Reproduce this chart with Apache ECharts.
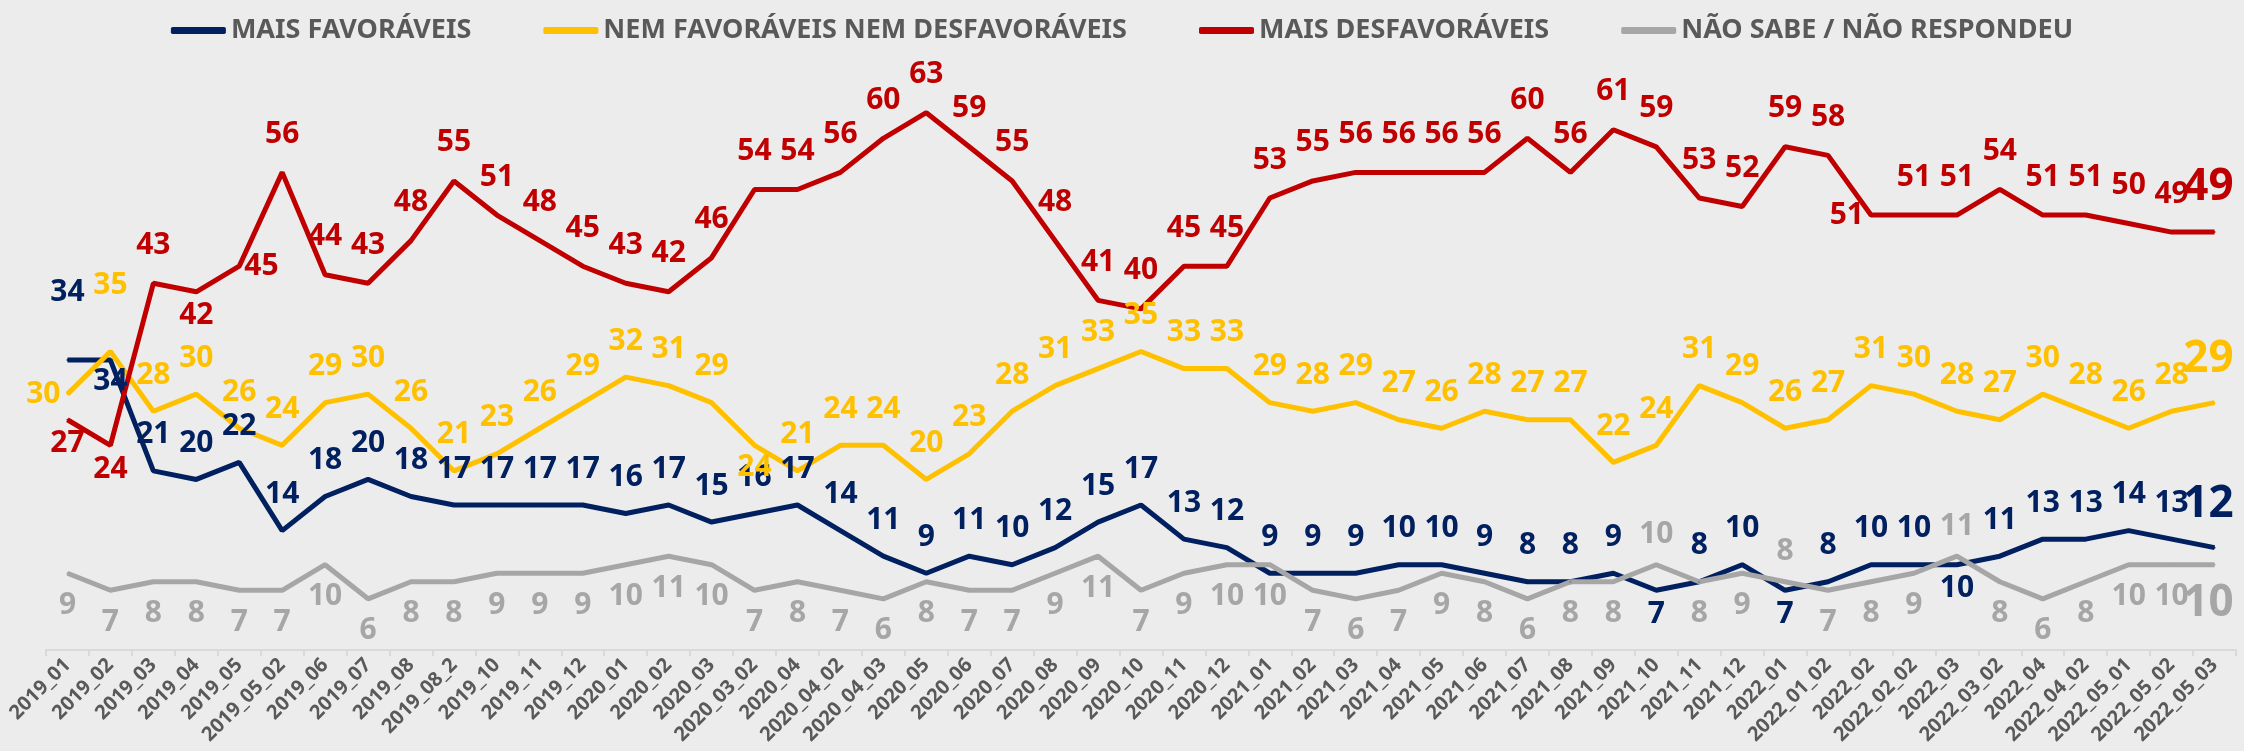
<!DOCTYPE html>
<html>
<head>
<meta charset="utf-8">
<script src="https://cdn.jsdelivr.net/npm/echarts@6/dist/echarts.min.js"></script>
<style>
  html, body { margin: 0; padding: 0; background: #ececec; }
  #chart { width: 2244px; height: 751px; }
</style>
</head>
<body>
<div id="chart"></div>
<script>
// categorias (rodadas)
const categories = [
  '2019_01', '2019_02', '2019_03', '2019_04', '2019_05', '2019_05_02', '2019_06', '2019_07', '2019_08', '2019_08_2',
  '2019_10', '2019_11', '2019_12', '2020_01', '2020_02', '2020_03', '2020_03_02', '2020_04', '2020_04_02', '2020_04_03',
  '2020_05', '2020_06', '2020_07', '2020_08', '2020_09', '2020_10', '2020_11', '2020_12', '2021_01', '2021_02',
  '2021_03', '2021_04', '2021_05', '2021_06', '2021_07', '2021_08', '2021_09', '2021_10', '2021_11', '2021_12',
  '2022_01', '2022_01_02', '2022_02', '2022_02_02', '2022_03', '2022_03_02', '2022_04', '2022_04_02', '2022_05_01', '2022_05_02',
  '2022_05_03'
]

// séries
const maisFavoraveis = [34, 34, 21, 20, 22, 14, 18, 20, 18, 17, 17, 17, 17, 16, 17, 15, 16, 17, 14, 11,
  9, 11, 10, 12, 15, 17, 13, 12, 9, 9, 9, 10, 10, 9, 8, 8, 9, 7, 8, 10,
  7, 8, 10, 10, 10, 11, 13, 13, 14, 13, 12]
const nemNem = [30, 35, 28, 30, 26, 24, 29, 30, 26, 21, 23, 26, 29, 32, 31, 29, 24, 21, 24, 24,
  20, 23, 28, 31, 33, 35, 33, 33, 29, 28, 29, 27, 26, 28, 27, 27, 22, 24, 31, 29,
  26, 27, 31, 30, 28, 27, 30, 28, 26, 28, 29]
const maisDesfavoraveis = [27, 24, 43, 42, 45, 56, 44, 43, 48, 55, 51, 48, 45, 43, 42, 46, 54, 54, 56, 60,
  63, 59, 55, 48, 41, 40, 45, 45, 53, 55, 56, 56, 56, 56, 60, 56, 61, 59, 53, 52,
  59, 58, 51, 51, 51, 54, 51, 51, 50, 49, 49]
const naoSabe = [9, 7, 8, 8, 7, 7, 10, 6, 8, 8, 9, 9, 9, 10, 11, 10, 7, 8, 7, 6,
  8, 7, 7, 9, 11, 7, 9, 10, 10, 7, 6, 7, 9, 8, 6, 8, 8, 10, 8, 9,
  8, 7, 8, 9, 11, 8, 6, 8, 10, 10, 10]

const FONT = '"Noto Sans", "DejaVu Sans", sans-serif'

// rótulos que fogem do padrão: [posição, distância]
const posFav = { 0: ['top', 52], 1: ['bottom', 5], 37: ['bottom', 8], 40: ['bottom', 8], 44: ['bottom', 8] }
const posNem = { 0: ['left', 6], 1: ['top', 50], 16: ['bottom', 6] }
const posDes = { 0: ['bottom', 8], 1: ['bottom', 8], 3: ['bottom', 8], 4: ['right', 4], 42: ['left', 6] }
const posNs = { 37: ['top', 14], 40: ['top', 14], 44: ['top', 14] }

const buildData = (values, overrides) => {
  return values.map((v, i) => {
    const item = { value: v, label: {} }
    if (overrides[i]) {
      item.label.position = overrides[i][0]
      item.label.distance = overrides[i][1]
    }
    if (i === values.length - 1) {
      item.label.fontSize = 44
      item.label.offset = [-6, 0]
    }
    return item
  })
}

const makeSeries = (name, values, color, defaultPos, overrides, distance) => ({
  name: name,
  type: 'line',
  data: buildData(values, overrides),
  symbol: 'circle',
  symbolSize: 2,
  lineStyle: { color: color, width: 5 },
  itemStyle: { color: color },
  label: {
    show: true,
    position: defaultPos,
    distance: distance,
    color: color,
    fontFamily: FONT,
    fontWeight: 'bold',
    fontSize: 30
  },
  emphasis: { disabled: true }
})

const chart = echarts.init(document.getElementById('chart'))
chart.setOption({
  backgroundColor: '#ececec',
  animation: false,
  legend: {
    top: 12,
    left: 'center',
    icon: 'roundRect',
    itemWidth: 55,
    itemHeight: 7,
    itemGap: 72,
    textStyle: { color: '#595959', fontSize: 27, fontWeight: 'bold', fontFamily: FONT },
    data: ['MAIS FAVORÁVEIS', 'NEM FAVORÁVEIS NEM DESFAVORÁVEIS', 'MAIS DESFAVORÁVEIS', 'NÃO SABE / NÃO RESPONDEU']
  },
  grid: { left: 46, right: 8, top: 53, bottom: 101 },
  xAxis: {
    type: 'category',
    data: categories,
    boundaryGap: true,
    axisLine: { lineStyle: { color: '#d9d9d9', width: 2 } },
    axisTick: { show: true, interval: 0, length: 6, lineStyle: { color: '#d9d9d9', width: 2 } },
    axisLabel: {
      interval: 0,
      rotate: 45,
      margin: 12,
      color: '#595959',
      fontFamily: FONT,
      fontWeight: 'bold',
      fontSize: 20
    }
  },
  yAxis: {
    type: 'value',
    min: 0,
    max: 70,
    show: false,
    splitLine: { show: false }
  },
  series: [
    makeSeries('MAIS FAVORÁVEIS', maisFavoraveis, '#002060', 'top', posFav, 20),
    makeSeries('NEM FAVORÁVEIS NEM DESFAVORÁVEIS', nemNem, '#ffc000', 'top', posNem, 20),
    makeSeries('MAIS DESFAVORÁVEIS', maisDesfavoraveis, '#c00000', 'top', posDes, 22),
    makeSeries('NÃO SABE / NÃO RESPONDEU', naoSabe, '#a6a6a6', 'bottom', posNs, 16)
  ]
})
</script>
</body>
</html>
